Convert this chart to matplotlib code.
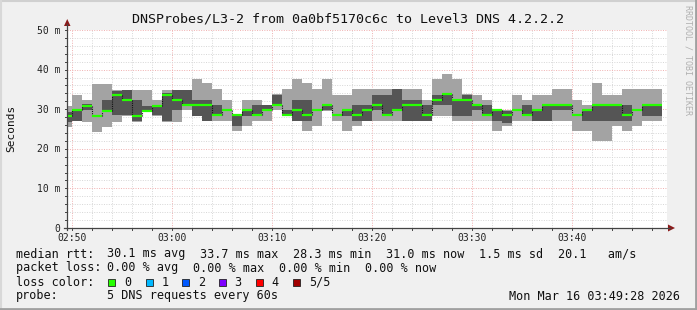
import numpy as np
import matplotlib
matplotlib.use("Agg")
import matplotlib.pyplot as plt
from matplotlib.lines import Line2D
from matplotlib.patches import Polygon, Rectangle

# ---------------- data ----------------
title = "DNSProbes/L3-2 from 0a0bf5170c6c to Level3 DNS 4.2.2.2"
# minute offsets (relative to 02:50) at which each 1-minute sample starts
minutes = np.arange(-1, 59)
# sorted ping RTTs (ms) per sample: p1 (min) .. p5 (max); p3 = median
p1 = [25.6, 26.9, 26.8, 24.3, 25.6, 26.8, 28.3, 26.8, 29.3, 28.4, 26.8, 26.8, 29.7, 28.3, 26.9, 27.0, 27.0, 24.4, 25.7, 27.0,
      27.0, 29.7, 28.3, 26.9, 24.4, 25.7, 29.6, 27.0, 24.4, 25.7, 27.0, 27.0, 27.0, 27.0, 26.9, 26.9, 26.9, 28.4, 28.4, 27.0,
      27.0, 27.0, 27.0, 24.4, 25.7, 27.0, 27.0, 27.0, 27.0, 27.0, 27.0, 24.4, 24.4, 21.9, 21.9, 25.7, 24.4, 25.7, 27.0, 27.0]
p2 = [26.8, 27.0, 29.8, 28.0, 29.4, 28.5, 28.5, 26.9, 29.4, 28.5, 26.9, 29.8, 30.8, 28.4, 27.0, 28.4, 29.5, 25.7, 28.4, 28.4,
      29.6, 31.0, 28.4, 27.0, 27.0, 29.5, 29.7, 28.4, 28.4, 27.0, 27.1, 29.7, 28.4, 29.6, 27.0, 27.0, 27.0, 31.0, 31.0, 28.4,
      28.4, 29.7, 28.4, 27.0, 26.5, 29.6, 28.4, 27.1, 27.1, 29.7, 29.7, 28.4, 27.0, 27.0, 27.0, 27.0, 27.0, 29.6, 28.4, 28.4]
p3 = [28.3, 29.7, 30.9, 28.3, 29.6, 33.7, 32.3, 28.3, 29.6, 30.9, 33.7, 32.3, 31.0, 31.0, 31.0, 28.5, 29.7, 28.5, 29.7, 28.5,
      29.7, 31.1, 28.5, 29.7, 28.5, 29.7, 31.0, 28.5, 29.7, 28.5, 29.7, 31.0, 28.5, 29.7, 31.0, 31.0, 28.5, 32.3, 33.8, 32.3,
      32.3, 31.0, 28.5, 29.7, 28.5, 29.7, 28.5, 29.7, 31.0, 31.0, 31.0, 28.5, 29.7, 31.0, 31.0, 31.0, 28.5, 29.7, 31.0, 31.0]
p4 = [29.3, 29.8, 31.4, 28.6, 32.3, 34.5, 34.8, 32.3, 30.8, 31.0, 34.0, 34.8, 34.8, 32.4, 32.4, 31.0, 29.8, 28.6, 29.8, 31.0,
      31.0, 33.7, 29.7, 32.4, 32.4, 29.8, 31.1, 28.6, 29.8, 31.0, 31.0, 33.7, 33.7, 35.0, 32.4, 32.4, 31.0, 33.7, 33.9, 32.4,
      33.7, 31.1, 31.0, 29.8, 29.6, 29.8, 31.0, 29.8, 31.1, 31.1, 31.1, 28.6, 29.8, 31.1, 31.1, 31.1, 31.0, 29.8, 31.1, 31.1]
p5 = [30.8, 33.7, 32.3, 36.4, 36.4, 34.8, 34.9, 34.8, 34.8, 32.3, 34.8, 34.9, 34.9, 37.7, 36.5, 35.0, 32.4, 28.7, 32.4, 32.4,
      31.1, 33.8, 35.0, 37.7, 36.5, 35.0, 37.7, 33.7, 33.7, 35.0, 35.0, 35.0, 35.0, 35.1, 35.0, 35.0, 32.4, 37.7, 39.0, 37.7,
      33.8, 33.7, 32.4, 29.9, 29.7, 33.7, 32.4, 33.7, 33.7, 35.0, 35.0, 32.4, 31.0, 36.5, 33.7, 33.7, 35.0, 35.0, 35.0, 35.0]

xtick_vals = [0, 10, 20, 30, 40, 50]
xtick_labels = ["02:50", "03:00", "03:10", "03:20", "03:30", "03:40"]
ytick_vals = [0, 10, 20, 30, 40, 50]
ytick_labels = ["0", "10 m", "20 m", "30 m", "40 m", "50 m"]

stats_rtt = ["30.1 ms avg", "33.7 ms max", "28.3 ms min", "31.0 ms now", "1.5 ms sd", "20.1   am/s"]
stats_loss = ["0.00 % avg", "0.00 % max", "0.00 % min", "0.00 % now"]
loss_labels = ["0", "1", "2", "3", "4", "5/5"]
loss_colors = ["#26ff00", "#00b8ff", "#0059ff", "#7e00ff", "#ff0000", "#a10000"]
probe_text = "5 DNS requests every 60s"
date_text = "Mon Mar 16 03:49:28 2026"

# ---------------- figure ----------------
W, H = 697, 310
fig = plt.figure(figsize=(W / 100, H / 100), dpi=100)
fig.patch.set_facecolor("#f0f0f0")

def fx(x):
    return x / W

def fy(y):
    return 1 - y / H

MONO = "DejaVu Sans Mono"
L, R, T, B = 67, 667, 30, 228
ax = fig.add_axes([fx(L), fy(B), (R - L) / W, (B - T) / H])
ax.set_facecolor("white")
ax.set_xlim(-0.5, 59.5)
ax.set_ylim(0, 50)
for s in ax.spines.values():
    s.set_visible(False)

p1a, p2a, p3a, p4a, p5a = (np.array(v) for v in (p1, p2, p3, p4, p5))
xe = np.append(minutes, minutes[-1] + 1)

def ext(a):
    return np.append(a, a[-1])

ax.fill_between(xe, ext(p1a), ext(p5a), step="post", color="#a3a3a3", lw=0, zorder=1, antialiased=False)
ax.fill_between(xe, ext(p2a), ext(p4a), step="post", color="#555555", lw=0, zorder=1.1, antialiased=False)

# median: green horizontal steps with dark vertical joins
for i, m in enumerate(minutes):
    ax.plot([m, m + 1], [p3a[i], p3a[i]], color="#26ff00", lw=1.6, solid_capstyle="butt", zorder=4)
    if i > 0:
        ax.plot([m, m], [p3a[i - 1], p3a[i]], color="#111111", lw=0.8, ls=(0, (1, 1)), zorder=3.5)

# grid (under the smoke)
ax.set_xticks(xtick_vals)
ax.set_xticks(np.arange(0, 60, 2), minor=True)
ax.set_yticks(ytick_vals)
ax.set_yticks(np.arange(0, 51, 2), minor=True)
ax.set_axisbelow(True)
ax.grid(which="minor", color="#d6d6d6", lw=0.7, ls=(0, (1, 1.5)), zorder=0.5)
ax.grid(which="major", color="#f0b0b0", lw=0.7, ls=(0, (1, 1.5)), zorder=0.6)
ax.tick_params(which="both", length=0, labelleft=False, labelbottom=False)

# tick labels
for v, lab in zip(xtick_vals, xtick_labels):
    fig.text(fx(72 + 10 * v), fy(238), lab, ha="center", va="center", fontsize=7, family=MONO, color="#222222")
for v, lab in zip(ytick_vals, ytick_labels):
    ypx = B - v * (B - T) / 50
    fig.text(fx(60), fy(ypx + 0.5), lab, ha="right", va="center", fontsize=7, family=MONO, color="#222222")

# axes lines with arrows
axc = "#444444"
arrc = "#8b1a1a"
fig.add_artist(Line2D([fx(L), fx(L)], [fy(B + 2), fy(24)], color=axc, lw=0.9))
fig.add_artist(Line2D([fx(L - 3), fx(670)], [fy(B), fy(B)], color=axc, lw=0.9))
fig.add_artist(Polygon([(fx(L - 3), fy(26)), (fx(L + 3.5), fy(26)), (fx(L + 0.25), fy(19))], closed=True,
                       color=arrc, lw=0))
fig.add_artist(Polygon([(fx(668), fy(B - 3.5)), (fx(668), fy(B + 3.5)), (fx(675), fy(B))], closed=True,
                       color=arrc, lw=0))
# small tick marks
for v in np.arange(0, 60, 2):
    xp = 72 + 10 * v
    fig.add_artist(Line2D([fx(xp), fx(xp)], [fy(B), fy(B + 2)], color=axc, lw=0.7))
for v in np.arange(0, 51, 2):
    yp = B - v * (B - T) / 50
    fig.add_artist(Line2D([fx(L - 2), fx(L)], [fy(yp), fy(yp)], color=axc, lw=0.7))

# titles
fig.text(fx(348), fy(19), title, ha="center", va="center", fontsize=9.6, family=MONO, color="#111111")
fig.text(fx(11), fy(128), "Seconds", ha="center", va="center", rotation=90, fontsize=8, family=MONO,
         color="#111111")
fig.text(fx(688), fy(60), "RRDTOOL / TOBI OETIKER", ha="center", va="center", rotation=270, fontsize=6,
         family=MONO, color="#b0b0b0")

# legend rows
fs = 8.5
cw = 7.15
def put(xpx, ypx, s):
    fig.text(fx(xpx), fy(ypx), s, ha="left", va="center", fontsize=fs, family=MONO, color="#111111")

put(16, 254, "median rtt:")
xs_rtt = [107.3, 200.3, 293.2, 386.2, 479.2, 557.8]
for xp, s in zip(xs_rtt, stats_rtt):
    put(xp, 254, s)
put(16, 268, "packet loss:")
for i, s in enumerate(stats_loss):
    put(107.3 + i * 12 * cw, 268, s)
put(16, 282, "loss color:")
box_x = [108.3, 145.7, 182.3, 219.0, 256.3, 293.3]
for xb, c, lab in zip(box_x, loss_colors, loss_labels):
    fig.add_artist(Rectangle((fx(xb), fy(286)), 7 / W, 7 / H, facecolor=c, edgecolor="#222222", lw=0.6))
    put(xb + 15.5, 282, lab)
put(16, 296, "probe:")
put(107.3, 296, probe_text)
fig.text(fx(680), fy(296), date_text, ha="right", va="center", fontsize=fs, family=MONO, color="#111111")

# 3D-ish frame
fig.add_artist(Line2D([0, 1], [fy(0.5), fy(0.5)], color="#d0d0d0", lw=1.5))
fig.add_artist(Line2D([fx(0.5), fx(0.5)], [0, 1], color="#d8d8d8", lw=1.5))
fig.add_artist(Line2D([0, 1], [fy(H - 1), fy(H - 1)], color="#a0a0a0", lw=2))
fig.add_artist(Line2D([fx(W - 1), fx(W - 1)], [0, 1], color="#a0a0a0", lw=2))

fig.savefig("out.png", dpi=100, facecolor=fig.get_facecolor())
